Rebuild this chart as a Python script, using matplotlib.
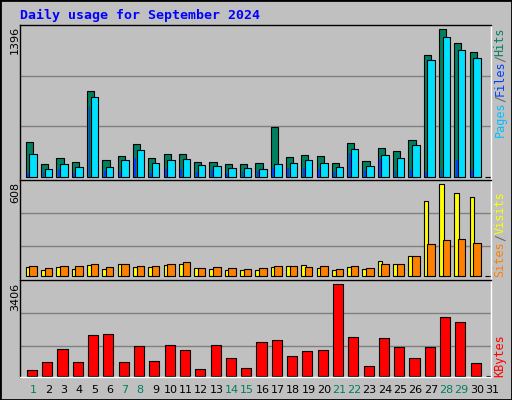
import matplotlib
matplotlib.use("Agg")
import matplotlib.pyplot as plt
from matplotlib.patches import Rectangle
import numpy as np

days = list(range(1, 32))
hits = [333,126,182,145,814,163,201,314,182,220,220,145,145,126,126,135,475,192,211,201,135,324,154,277,248,352,1154,1396,1267,1182,0]
files = [220,79,126,97,758,97,163,258,135,163,173,116,107,88,88,79,126,135,163,135,97,267,107,211,182,305,1107,1324,1201,1126,0]
pages = [41,50,79,41,663,60,50,182,41,79,79,50,69,41,50,60,88,88,88,79,50,230,60,173,60,69,50,69,163,69,0]
visits = [61,42,61,48,75,48,81,61,61,75,81,55,48,42,42,42,61,68,75,55,42,61,48,101,81,134,496,608,549,522,0]
sites = [68,55,68,68,81,61,81,68,68,81,94,55,61,55,48,55,68,68,61,68,48,68,55,81,81,134,213,239,246,220,0]
kbytes = [211,508,991,508,1511,1548,508,1102,545,1139,954,248,1139,656,285,1251,1325,731,916,954,3406,1437,359,1400,1065,656,1065,2180,1994,471,0]
weekend = [1,7,8,14,15,21,22,28,29]

W, H = 512, 400
fig = plt.figure(figsize=(W/100, H/100), dpi=100, facecolor="#C0C0C0")
mono = "DejaVu Sans Mono"

def ax_at(x0, y0, x1, y1):
    return fig.add_axes([x0/W, 1-y1/H, (x1-x0)/W, (y1-y0)/H])

def style(ax, ylo, yhi, grids):
    ax.set_facecolor("#C0C0C0")
    ax.set_xlim(0.62, 31.4)
    ax.set_ylim(ylo, yhi)
    for g in grids:
        ax.axhline(g, color="#808080", lw=1, zorder=0)
    ax.set_xticks([]); ax.set_yticks([])
    ax.spines["top"].set_color("black"); ax.spines["left"].set_color("black")
    ax.spines["bottom"].set_color("white"); ax.spines["right"].set_color("white")
    for s in ax.spines.values():
        s.set_linewidth(1)

d = np.array(days, dtype=float)
kw = dict(align="edge", edgecolor="black", linewidth=0.8)

ax1 = ax_at(20, 25, 491, 180)
style(ax1, -28, 1433, [1433/3, 2*1433/3])
ax1.bar(d, hits, width=0.47, color="#008060", **kw)
ax1.bar(d+0.24, files, width=0.49, color="#00E0FF", **kw)
ax1.bar(d+0.1, pages, width=0.12, color="#0040FF", align="edge", linewidth=0)

ax2 = ax_at(20, 180, 491, 280)
style(ax2, -24, 635, [200, 417])
ax2.bar(d, visits, width=0.3, color="#FFFF00", **kw)
ax2.bar(d+0.24, sites, width=0.49, color="#FF8000", **kw)

ax3 = ax_at(20, 280, 491, 377)
style(ax3, -37, 3556, [1103, 2329])
ax3.bar(d+0.07, kbytes, width=0.66, color="#FF0000", **kw)

fig.patches.append(Rectangle((0, 0), 1, 1, transform=fig.transFigure, fill=False, edgecolor="black", lw=2))
fig.text(20/W, 1-15/H, "Daily usage for September 2024", color="#0000FF", family=mono,
         weight="bold", fontsize=9.5, va="center", ha="left")

for day in days:
    c = "#008060" if day in weekend else "black"
    ax3.text(day + 0.47, -0.13, str(day), transform=ax3.get_xaxis_transform(), ha="center",
             va="center", fontsize=8, color=c, family="DejaVu Sans")

for txt, ytop in [("1396", 26), ("608", 182), ("3406", 283)]:
    fig.text(15/W, 1-ytop/H, txt, rotation=90, ha="center", va="top", fontsize=8, family="DejaVu Sans")

def rlabel(parts):
    for txt, col, ybot in parts:
        fig.text(500/W, 1-ybot/H, txt, rotation=90, ha="center", va="bottom", color=col,
                 family=mono, fontsize=8.5)

rlabel([("Pages", "#00C0FF", 137), ("/", "#606060", 102), ("Files", "#0040FF", 96),
        ("/", "#606060", 62), ("Hits", "#008060", 56)])
rlabel([("Sites", "#FF8000", 277), ("/", "#606060", 241), ("Visits", "#FFFF00", 234)])
rlabel([("KBytes", "#FF0000", 377)])

fig.savefig("out.png", dpi=100, facecolor=fig.get_facecolor())
